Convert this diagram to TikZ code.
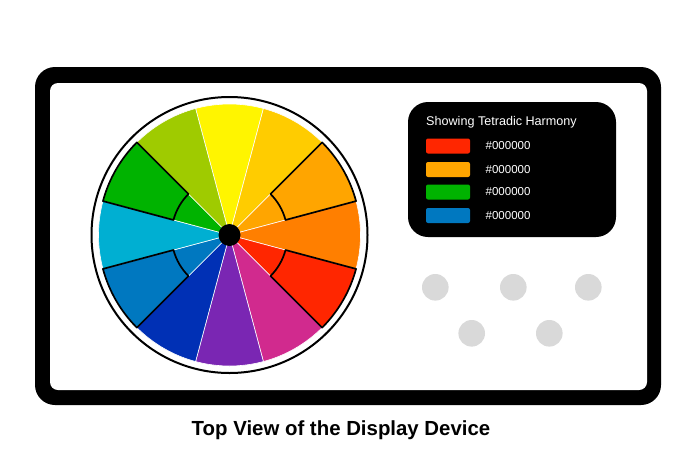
\documentclass[tikz,border=0pt]{standalone}
\usepackage{fontspec}
\setmainfont{Liberation Sans}
\definecolor{cYel}{HTML}{FFF500}
\definecolor{cYelOr}{HTML}{FFCC00}
\definecolor{cOr}{HTML}{FFA500}
\definecolor{cDkOr}{HTML}{FF7F00}
\definecolor{cRed}{HTML}{FF2600}
\definecolor{cMag}{HTML}{D12A8E}
\definecolor{cPur}{HTML}{7A26B3}
\definecolor{cBlu}{HTML}{0030B5}
\definecolor{cMBlu}{HTML}{0078C0}
\definecolor{cCya}{HTML}{00AFD2}
\definecolor{cGrn}{HTML}{00B300}
\definecolor{cYGr}{HTML}{9FCB00}
\definecolor{cKnob}{HTML}{D9D9D9}
\tikzset{
  wedge/.style={fill=#1, draw=white, line width=0.6pt},
  hilite/.style={draw=black, line width=1.7pt, line join=round},
  swatch/.style={fill=#1, rounded corners=2pt},
  legtext/.style={anchor=west, text=white, inner sep=0pt, font=\fontsize{11.5}{13}\selectfont},
  knob/.style={fill=cKnob},
}
\begin{document}
\begin{tikzpicture}[x=1pt,y=-1pt]
\useasboundingbox (0,0) rectangle (693,474);
\fill[white] (0,0) rectangle (693,474);
% device frame
\fill[black, rounded corners=20pt] (35,67) rectangle (661,405);
\fill[white, rounded corners=8pt] (50,83) rectangle (647,390);
% colour wheel
\begin{scope}[shift={(229.5,235)}, yscale=-1]
  \foreach \a/\c in {90/cYel,60/cYelOr,30/cOr,0/cDkOr,-30/cRed,-60/cMag,-90/cPur,-120/cBlu,-150/cMBlu,180/cCya,150/cGrn,120/cYGr}{
    \path[wedge=\c] (0,0) -- (\a-15:131) arc[start angle=\a-15, end angle=\a+15, radius=131] -- cycle;
  }
  \foreach \a in {30,-30,-150,150}{
    \draw[hilite] (\a-15:58) arc[start angle=\a-15, end angle=\a+15, radius=58] -- (\a+15:131) arc[start angle=\a+15, end angle=\a-15, radius=131] -- cycle;
  }
  \draw[line width=2pt] (0,0) circle[radius=138];
  \fill[black] (0,0) circle[radius=11];
\end{scope}
% legend
\fill[black, rounded corners=20pt] (408,102) rectangle (616,237);
\node[legtext, font=\fontsize{12.6}{14}\selectfont] (title) at (426,122) {Showing Tetradic Harmony};
\fill[swatch=cRed]  (426,138.5) rectangle (470,153.5);
\fill[swatch=cOr]   (426,162)   rectangle (470,177);
\fill[swatch=cGrn]  (426,184.5) rectangle (470,199.5);
\fill[swatch=cMBlu] (426,208)   rectangle (470,223);
\node[legtext] (h1) at (485.5,146) {\#000000};
\node[legtext] (h2) at (485.5,169.5) {\#000000};
\node[legtext] (h3) at (485.5,192) {\#000000};
\node[legtext] (h4) at (485.5,215.5) {\#000000};
% knobs
\fill[knob] (435.3,287.3) circle[radius=13.3];
\fill[knob] (513.3,287.3) circle[radius=13.3];
\fill[knob] (588.3,287.3) circle[radius=13.3];
\fill[knob] (471.7,333.3) circle[radius=13.3];
\fill[knob] (549.3,333.3) circle[radius=13.3];
% caption
\node[font=\bfseries\fontsize{20.4}{24}\selectfont, inner sep=0pt] (cap) at (341,430) {Top View of the Display Device};
\end{tikzpicture}
\end{document}
